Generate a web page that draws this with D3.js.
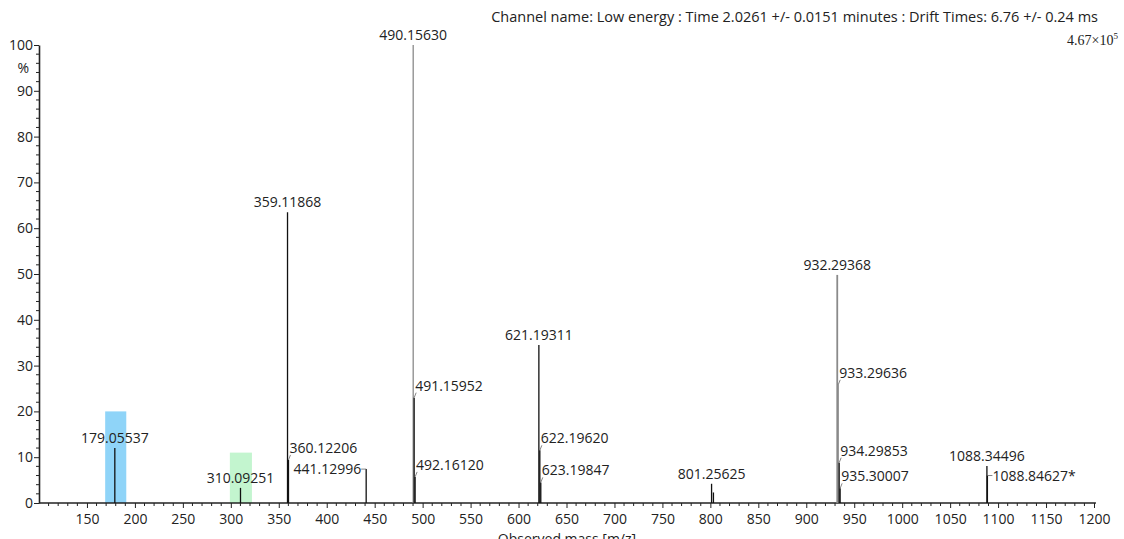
<!DOCTYPE html>
<html><head><meta charset="utf-8">
<script src="https://cdn.jsdelivr.net/npm/d3@7"></script>
<style>
body{margin:0;background:#fff;}
svg{display:block;font-family:"Open Sans","Noto Sans",sans-serif;}
</style></head>
<body><svg id="c" width="1124" height="539"></svg>
<script>
// ---- data ----
const peakMz    = [179.05537, 310.09251, 359.11868, 360.12206, 441.12996, 490.15630, 491.15952, 492.16120,
                   621.19311, 622.19620, 623.19847, 801.25625, 803.2, 932.29368, 933.29636, 934.29853, 935.30007,
                   1088.34496, 1088.84627];
const peakInt   = [12, 3.3, 63.5, 9.4, 7.4, 100, 23, 5.7,
                   34.5, 11.5, 4.5, 4.2, 2.3, 49.8, 25.8, 8.8, 3.2,
                   8.1, 6.0];
const peakLabel = ["179.05537","310.09251","359.11868","360.12206","441.12996","490.15630","491.15952","492.16120",
                   "621.19311","622.19620","623.19847","801.25625","","932.29368","933.29636","934.29853","935.30007",
                   "1088.34496","1088.84627*"];
const labelMode = ["top","top","top","slant","left","top","slant","slant",
                   "top","slant","slant","top","none","top","slant","slant","slant",
                   "top","right"];
const greyPeaks = ["490.15630","932.29368","933.29636"];
const highlightFrom = [169, 299];
const highlightTo   = [191, 322];
const highlightInt  = [20, 11];
const highlightColor = ["#8fd4f8","#c3f5cf"];
const xTicksMajor = [150,200,250,300,350,400,450,500,550,600,650,700,750,800,850,900,950,1000,1050,1100,1150,1200];
const yTicksMajor = [0,10,20,30,40,50,60,70,80,90,100];
const titleText = "Channel name: Low energy : Time 2.0261 +/- 0.0151 minutes : Drift Times: 6.76 +/- 0.24 ms";
const scaleText = "4.67×10";
const scaleExp = "5";
const xTitle = "Observed mass [m/z]";

// ---- drawing ----
const svg = d3.select("#c");
const x = d3.scaleLinear().domain([100, 1200]).range([39, 1094]);
const y = d3.scaleLinear().domain([0, 100]).range([503, 45]);
const ink = "#222";

// highlight bars
svg.selectAll("rect.hl").data(highlightFrom).enter().append("rect")
  .attr("x", (d,i)=>x(d)).attr("width",(d,i)=>x(highlightTo[i])-x(d))
  .attr("y",(d,i)=>y(highlightInt[i])).attr("height",(d,i)=>y(0)-y(highlightInt[i]))
  .attr("fill",(d,i)=>highlightColor[i]);

// x axis
const xAxis = d3.axisBottom(x).tickValues(xTicksMajor).tickSize(5).tickSizeOuter(0).tickFormat(d3.format("d"));
const gx = svg.append("g").attr("transform",`translate(0,${y(0)})`).call(xAxis);
gx.select(".domain").attr("stroke",ink).attr("stroke-width",1.6).attr("d",`M${x(100)},0H${x(1202)}`);
gx.selectAll(".tick line").attr("stroke",ink);
gx.selectAll(".tick text").attr("fill",ink).attr("font-size",14).attr("dy","0.95em").attr("font-family","Open Sans, Noto Sans, sans-serif");
const minorX = d3.range(110, 1201, 10).filter(v=>v%50!==0);
svg.append("g").selectAll("line").data(minorX).enter().append("line")
  .attr("x1",d=>x(d)).attr("x2",d=>x(d)).attr("y1",y(0)).attr("y2",y(0)+3).attr("stroke",ink).attr("stroke-width",1);

// y axis
const yAxis = d3.axisLeft(y).tickValues(yTicksMajor).tickSize(5).tickSizeOuter(0).tickFormat(d3.format("d"));
const gy = svg.append("g").attr("transform",`translate(${x(100)},0)`).call(yAxis);
gy.select(".domain").attr("stroke",ink).attr("stroke-width",1.6);
gy.selectAll(".tick line").attr("stroke",ink);
gy.selectAll(".tick text").attr("fill",ink).attr("font-size",14).attr("x",-6).attr("font-family","Open Sans, Noto Sans, sans-serif");
const minorY = d3.range(2, 100, 2).filter(v=>v%10!==0);
svg.append("g").selectAll("line").data(minorY).enter().append("line")
  .attr("x1",x(100)-3).attr("x2",x(100)).attr("y1",d=>y(d)).attr("y2",d=>y(d)).attr("stroke",ink);
svg.append("text").attr("x",x(100)-10).attr("y",y(95)+5).attr("text-anchor","end")
  .attr("font-size",14).attr("fill",ink).text("%");

// peaks
const peaks = peakMz.map((m,i)=>({m, v:peakInt[i], label:peakLabel[i], mode:labelMode[i]}));
svg.append("g").selectAll("line").data(peaks).enter().append("line")
  .attr("x1",d=>x(d.m)).attr("x2",d=>x(d.m)).attr("y1",y(0)).attr("y2",d=>y(d.v))
  .attr("stroke",d=>greyPeaks.includes(d.label)?"#8a8a8a":"#111")
  .attr("stroke-width",d=>d.label==="932.29368"?1.8:1.3);

const lg = svg.append("g").attr("font-size",14).attr("fill",ink);
peaks.forEach(d=>{
  const px = x(d.m), py = y(d.v);
  if(d.mode==="top"){
    lg.append("text").attr("x",px).attr("y",py-5).attr("text-anchor","middle").text(d.label);
  } else if(d.mode==="slant"){
    lg.append("line").attr("x1",px).attr("y1",py).attr("x2",px+2).attr("y2",py-5).attr("stroke","#666").attr("stroke-width",0.8);
    lg.append("text").attr("x",px+1).attr("y",py-7).attr("text-anchor","start").text(d.label);
  } else if(d.mode==="left"){
    lg.append("line").attr("x1",px).attr("y1",py).attr("x2",px-5).attr("y2",py).attr("stroke","#666").attr("stroke-width",0.8);
    lg.append("text").attr("x",px-5).attr("y",py+5).attr("text-anchor","end").text(d.label);
  } else if(d.mode==="right"){
    lg.append("line").attr("x1",px).attr("y1",py).attr("x2",px+5).attr("y2",py).attr("stroke","#666").attr("stroke-width",0.8);
    lg.append("text").attr("x",px+5).attr("y",py+5).attr("text-anchor","start").text(d.label);
  }
});

// title and scale
svg.append("text").attr("x",1098).attr("y",22).attr("text-anchor","end").attr("font-size",14.5).attr("fill",ink).text(titleText);
const st = svg.append("text").attr("x",1118).attr("y",45).attr("text-anchor","end")
  .attr("font-family","Liberation Serif, DejaVu Serif, serif").attr("font-size",14).attr("fill",ink);
st.append("tspan").text(scaleText);
st.append("tspan").attr("dy",-6).attr("font-size",9).text(scaleExp);

// x title (partially clipped at the bottom, as in the reference)
svg.append("text").attr("x",567).attr("y",544).attr("text-anchor","middle").attr("font-size",14).attr("fill",ink).text(xTitle);
</script></body></html>
